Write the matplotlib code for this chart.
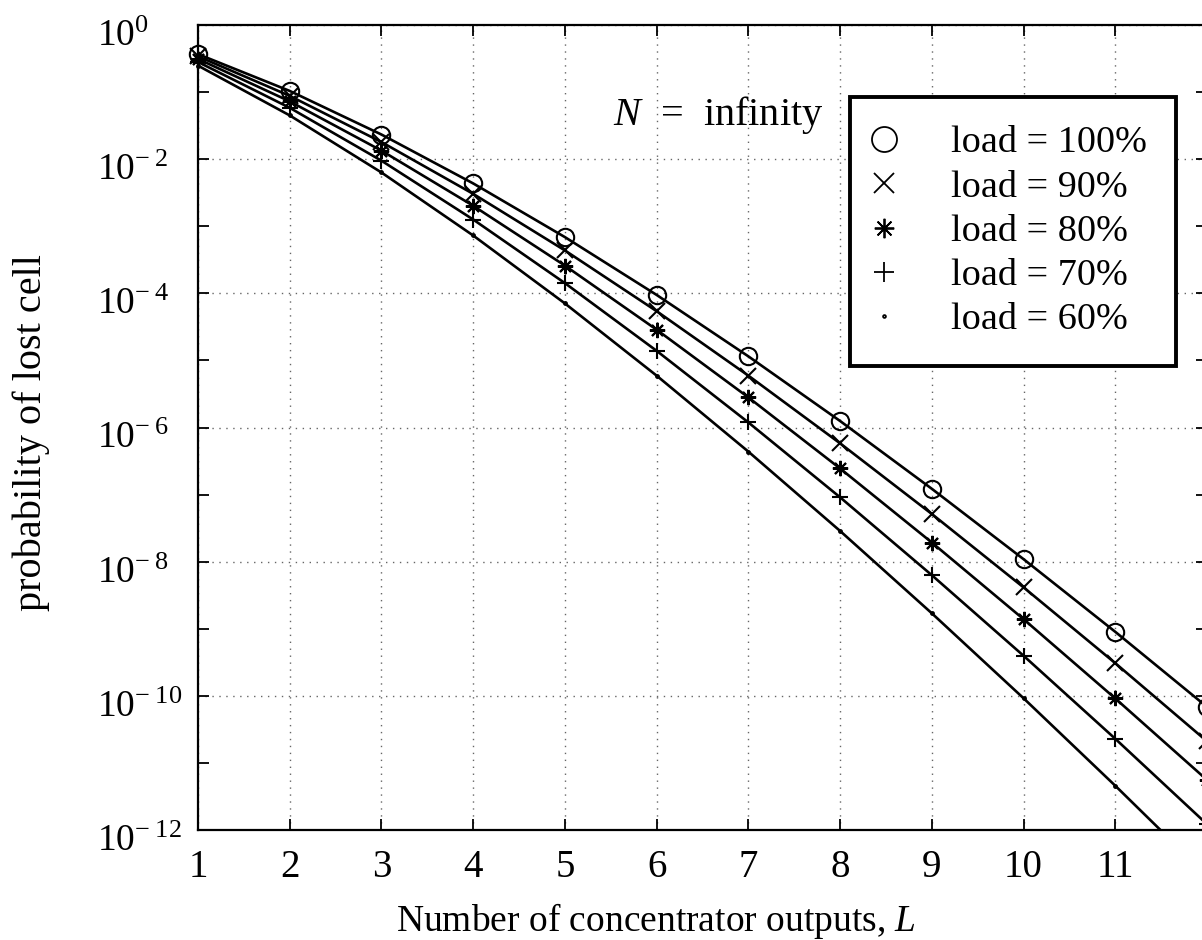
import matplotlib
matplotlib.use("Agg")
import matplotlib.pyplot as plt
import matplotlib.transforms as mtransforms
from matplotlib.lines import Line2D
from matplotlib.ticker import FixedLocator, NullFormatter

plt.rcParams['font.family'] = ['Liberation Serif', 'DejaVu Serif']
plt.rcParams['mathtext.fontset'] = 'custom'
plt.rcParams['mathtext.rm'] = 'Liberation Serif'
plt.rcParams['mathtext.it'] = 'Liberation Serif:italic'

# ---- data ----
L = [1, 2, 3, 4, 5, 6, 7, 8, 9, 10, 11, 12]
load_labels = ["load = 100%", "load = 90%", "load = 80%", "load = 70%", "load = 60%"]
p100 = [0.368, 0.104, 0.0233, 0.00435, 6.89e-4, 9.47e-5, 1.15e-5, 1.25e-6, 1.22e-7, 1.09e-8, 9.00e-10, 6.84e-11]
p90 = [0.341, 0.0878, 0.0180, 0.00304, 4.36e-4, 5.42e-5, 5.93e-6, 5.81e-7, 5.14e-8, 4.14e-9, 3.07e-10, 2.10e-11]
p80 = [0.312, 0.0727, 0.0134, 0.00202, 2.59e-4, 2.87e-5, 2.81e-6, 2.45e-7, 1.93e-8, 1.39e-9, 9.14e-11, 5.57e-12]
p70 = [0.281, 0.0583, 0.00949, 0.00126, 1.42e-4, 1.39e-5, 1.19e-6, 9.11e-8, 6.29e-9, 3.96e-10, 2.29e-11, 1.22e-12]
p60 = [0.248, 0.0449, 0.00633, 7.28e-4, 7.07e-5, 5.93e-6, 4.37e-7, 2.87e-8, 1.70e-9, 9.21e-11, 4.57e-12, 2.09e-13]
series = [p100, p90, p80, p70, p60]
xticks = [1, 2, 3, 4, 5, 6, 7, 8, 9, 10, 11]
ytick_exps = [0, -2, -4, -6, -8, -10, -12]

markers = ['o', 'x', (8, 2, 0), '+', '.']
msizes = [12.5, 11, 11, 12, 4]
leg_msizes = [18, 15, 14, 15, 4]

fig = plt.figure(figsize=(12.02, 9.40), dpi=100)
ax = fig.add_axes([198 / 1202, 110 / 940, 1009 / 1202, 805 / 940])

for vals, m, ms in zip(series, markers, msizes):
    ax.plot(L, vals, color='black', lw=1.9, linestyle='-', clip_on=True)
    ax.plot(L, vals, color='black', linestyle='none', marker=m, ms=ms, mfc='none',
            mec='black', mew=1.5, clip_on=False)

ax.set_yscale('log')
ax.set_xlim(1, 12)
ax.set_ylim(1e-12, 1)

ax.xaxis.set_major_locator(FixedLocator(xticks))
ax.set_xticklabels([str(t) for t in xticks])
ax.yaxis.set_major_locator(FixedLocator([10.0 ** e for e in ytick_exps]))
ax.yaxis.set_major_formatter(NullFormatter())
ax.yaxis.set_minor_locator(FixedLocator([10.0 ** e for e in range(-11, 0, 2)]))
ax.yaxis.set_minor_formatter(NullFormatter())

ax.tick_params(axis='both', which='both', direction='in', top=True, right=True,
               length=8, width=1.3)
ax.tick_params(axis='x', labelsize=28, pad=14)

# y tick labels, left-aligned like the original
ytrans = mtransforms.blended_transform_factory(fig.transFigure, ax.transData) + \
    mtransforms.ScaledTranslation(0, -0.21, fig.dpi_scale_trans)
for e in ytick_exps:
    lab = r'$10^{0}$' if e == 0 else r'$10^{-\;%d}$' % (-e)
    ax.text(97 / 1202, 10.0 ** e, lab, transform=ytrans, fontsize=27,
            ha='left', va='baseline', clip_on=False)

ax.grid(True, which='major', linestyle=(0, (1, 4)), color='#666666', lw=1.0)
for s in ax.spines.values():
    s.set_linewidth(1.6)

ax.set_xlabel(r'Number of concentrator outputs, $L$', fontsize=27)
ax.xaxis.set_label_coords(0.454, -0.088)
ax.set_ylabel('probability of lost cell', fontsize=29)
ax.yaxis.set_label_coords(-0.147, 0.494)

ax.text(0.411, 0.8758, r'$N$  =  infinity', transform=ax.transAxes, fontsize=29,
        ha='left', va='baseline')

handles = [Line2D([], [], color='black', marker=m, ms=ms, mfc='none',
                  mew=1.3, linestyle='none') for m, ms in zip(markers, leg_msizes)]
leg = ax.legend(handles, load_labels, loc='upper left', bbox_to_anchor=(0.646, 0.9106),
                fontsize=27.5, frameon=True, fancybox=False, framealpha=1,
                edgecolor='black', borderpad=0.75, labelspacing=0.25,
                handletextpad=1.6, handlelength=0.3, borderaxespad=0)
leg.get_frame().set_linewidth(2.8)

fig.savefig('out.png', dpi=100)
